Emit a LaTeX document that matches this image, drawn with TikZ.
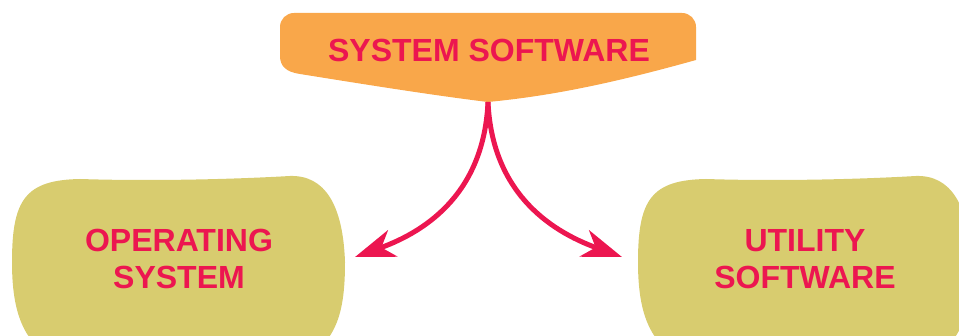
\documentclass[tikz,border=0pt]{standalone}
\usepackage{fontspec}
\setmainfont{Liberation Sans}
\usetikzlibrary{arrows.meta}
\definecolor{txtred}{RGB}{236,22,80}
\definecolor{orangeF}{RGB}{249,167,74}
\definecolor{blobF}{RGB}{216,204,111}
\tikzset{
  lbl/.style={text=txtred, font=\fontsize{32}{37}\selectfont\bfseries, inner sep=0pt, align=center},
  conn/.style={draw=txtred, line width=5pt, -{Stealth[length=40pt,width=28pt,inset=12pt]}},
  blobshape/.style={fill=blobF}
}
\newcommand{\blobpath}{(12,262) .. controls (12,200) and (25,180) .. (80,179)
  .. controls (140,181) and (220,180) .. (290,176)
  .. controls (325,175) and (343,205) .. (345,262)
  .. controls (345,310) and (338,342) .. (300,362)
  -- (60,362)
  .. controls (22,345) and (12,310) .. (12,262) -- cycle}
\begin{document}
\begin{tikzpicture}[x=1pt,y=-1pt]
\useasboundingbox (0,0) rectangle (959,336);
\clip (0,0) rectangle (959,336);
% top shape
\fill[orangeF] (280,40) [rounded corners=14pt] -- (280,13) -- (696,13) [sharp corners] -- (696,60)
  .. controls (610,84) and (550,96) .. (488,102)
  .. controls (430,95) and (350,82) .. (300,74)
  .. controls (286,72) and (280,66) .. (280,56) -- cycle;
\coordinate (sp) at (488,102);
% blobs
\fill[blobshape] \blobpath;
\begin{scope}[xshift=626pt]
\fill[blobshape] \blobpath;
\end{scope}
% labels
\node[lbl, anchor=base] (sys) at (489,62) {SYSTEM SOFTWARE};
\node[lbl] (os) at (179,259) {OPERATING\\SYSTEM};
\node[lbl] (us) at (805,259) {UTILITY\\SOFTWARE};
% arrow endpoints
\coordinate (osend) at (355,257);
\coordinate (usend) at (622,257);
\draw[conn] (sp) .. controls (484,190) and (430,230) .. (osend);
\draw[conn] (sp) .. controls (492,190) and (547,230) .. (usend);
\end{tikzpicture}
\end{document}
